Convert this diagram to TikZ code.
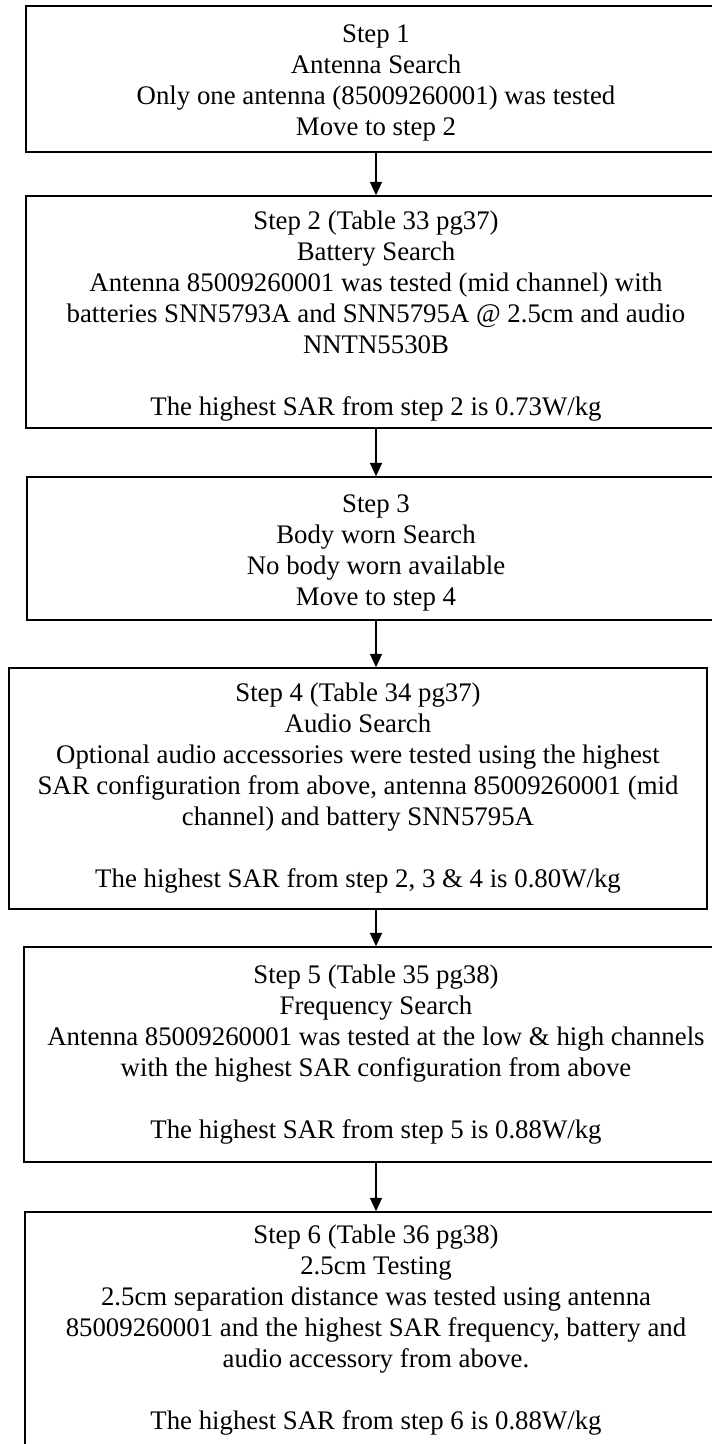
\documentclass[tikz,border=0pt]{standalone}
\usepackage{fontspec}
\setmainfont{Liberation Serif}
\usetikzlibrary{arrows.meta}
\newcommand{\topgap}{\rule{0pt}{20pt}}
\begin{document}
\begin{tikzpicture}[x=0.75pt,y=-0.75pt,
  stepbox/.style={draw=black, line width=1.1pt, rectangle, inner sep=0pt, align=center,
    font=\fontsize{20.1pt}{23.25pt}\selectfont},
  flow/.style={draw=black, line width=0.9pt, -{Triangle[length=10pt,width=9pt]}}]
\useasboundingbox (0,0) rectangle (712,1444);
\clip (0,0) rectangle (712,1444);
\fill[white] (0,0) rectangle (712,1444);
\coordinate (ax) at (376,0);
\node[stepbox, minimum width=525pt, minimum height=109.5pt] (b1) at (376,79)
  {\topgap Step 1\\Antenna Search\\Only one antenna (85009260001) was tested\\Move to step 2};
\node[stepbox, minimum width=525pt, minimum height=174pt] (b2) at (376,312)
  {\topgap Step 2 (Table 33 pg37)\\Battery Search\\Antenna 85009260001 was tested (mid channel) with\\batteries SNN5793A and SNN5795A @ 2.5cm and audio\\NNTN5530B\\[23.25pt]The highest SAR from step 2 is 0.73W/kg};
\node[stepbox, minimum width=523.5pt, minimum height=107.25pt] (b3) at (376,548.5)
  {\topgap Step 3\\Body worn Search\\No body worn available\\Move to step 4};
\node[stepbox, minimum width=523.5pt, minimum height=180.75pt] (b4) at (358,788.5)
  {Step 4 (Table 34 pg37)\\Audio Search\\Optional audio accessories were tested using the highest\\SAR configuration from above, antenna 85009260001 (mid\\channel) and battery SNN5795A\\[23.25pt]The highest SAR from step 2, 3 \& 4 is 0.80W/kg};
\node[stepbox, minimum width=528pt, minimum height=161.25pt] (b5) at (376,1054.5)
  {Step 5 (Table 35 pg38)\\Frequency Search\\Antenna 85009260001 was tested at the low \& high channels\\with the highest SAR configuration from above\\[23.25pt]The highest SAR from step 5 is 0.88W/kg};
\node[stepbox, minimum width=526.5pt, minimum height=177pt] (b6) at (376,1330)
  {Step 6 (Table 36 pg38)\\2.5cm Testing\\2.5cm separation distance was tested using antenna\\85009260001 and the highest SAR frequency, battery and\\audio accessory from above.\\[23.25pt]The highest SAR from step 6 is 0.88W/kg};
\draw[flow] (b1.south -| ax) -- (b2.north -| ax);
\draw[flow] (b2.south -| ax) -- (b3.north -| ax);
\draw[flow] (b3.south -| ax) -- (b4.north -| ax);
\draw[flow] (b4.south -| ax) -- (b5.north -| ax);
\draw[flow] (b5.south -| ax) -- (b6.north -| ax);
\end{tikzpicture}
\end{document}
